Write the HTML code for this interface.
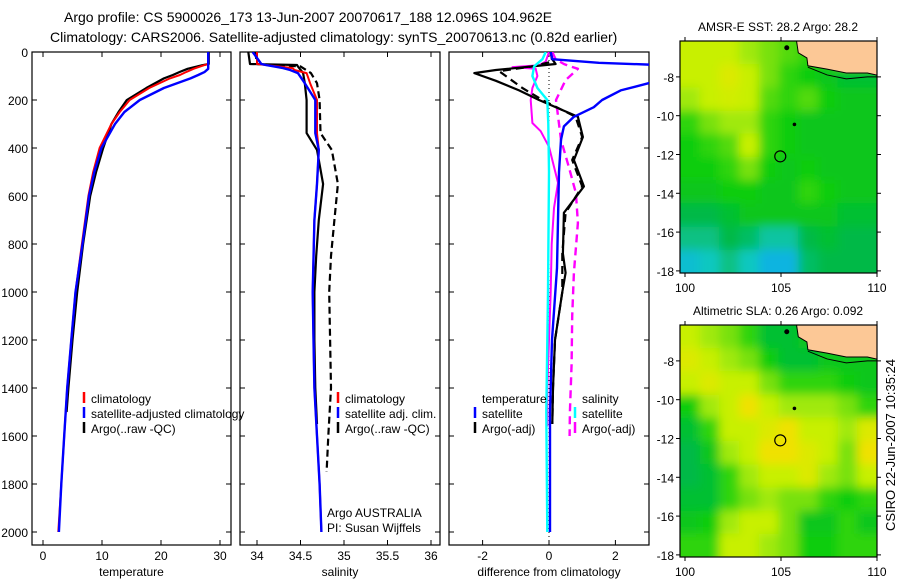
<!DOCTYPE html>
<html><head><meta charset="utf-8"><style>
html,body{margin:0;padding:0;background:#fff;}
svg{display:block;font-family:"Liberation Sans",sans-serif;}
</style></head><body>
<svg id="fig" xmlns="http://www.w3.org/2000/svg" width="900" height="580" viewBox="0 0 900 580">
<defs>
<clipPath id="c1"><rect x="32" y="52" width="199" height="493"/></clipPath>
<clipPath id="c2"><rect x="240" y="52" width="200" height="493"/></clipPath>
<clipPath id="c3"><rect x="449" y="52" width="200" height="493"/></clipPath>
<clipPath id="cm1"><rect x="680" y="41" width="197" height="232"/></clipPath>
<clipPath id="cm2"><rect x="680" y="325" width="197" height="232"/></clipPath>
<filter id="blur" x="-5%" y="-5%" width="110%" height="110%"><feGaussianBlur stdDeviation="5"/></filter>
</defs>
<g font-size="14" fill="#000">
<text x="64" y="22">Argo profile: CS 5900026_173 13-Jun-2007 20070617_188 12.096S 104.962E</text>
<text x="50" y="42">Climatology: CARS2006. Satellite-adjusted climatology: synTS_20070613.nc (0.82d earlier)</text>
</g>
<g id="layer"></g>
<text transform="translate(895,445) rotate(-90)" text-anchor="middle" font-size="13">CSIRO 22-Jun-2007 10:35:24</text>
</svg>
<script>
// ---- temperature panel data ----
const tDepth = [0,50,55,70,83,96,110,150,200,250,300,400,500,600,800,1000,1200,1400,1600,1800,2000];
const tClim  = [28.0,28.0,27.3,25.5,24.3,23.2,21.5,18.0,14.7,13.0,11.6,9.6,8.5,7.7,6.6,5.5,4.8,4.1,3.6,3.1,2.6];
const tSat   = [28.0,28.0,28.0,28.0,27.4,26.3,25.0,20.5,16.4,13.8,12.2,9.9,8.7,7.8,6.7,5.5,4.8,4.1,3.6,3.1,2.7];
const tArgoDepth = [0,50,55,70,83,96,110,150,200,250,300,400,500,600,800,1000,1200,1400,1500];
const tArgo  = [28.1,28.1,27.0,24.5,23.2,22.0,20.5,17.5,14.2,12.8,11.6,10.2,9.0,8.0,6.8,5.8,5.0,4.3,4.0];
// ---- salinity panel data ----
const sDepth = [0,25,50,54,67,75,88,130,200,338,408,550,700,1000,1200,1400,1600,1800,2000];
const sClim  = [34.0,34.0,34.0,34.1,34.41,34.43,34.57,34.61,34.69,34.69,34.71,34.69,34.66,34.64,34.65,34.66,34.69,34.72,34.74];
const sSat   = [33.95,34.0,34.05,34.1,34.3,34.38,34.47,34.55,34.67,34.67,34.71,34.69,34.66,34.64,34.65,34.66,34.69,34.72,34.74];
const sArgoDepth = [0,50,54,60,88,130,200,338,408,550,700,850,1000,1200,1400,1550];
const sArgo  = [33.9,33.92,34.46,34.47,34.53,34.55,34.57,34.57,34.69,34.76,34.71,34.68,34.66,34.66,34.67,34.69];
const sAdjDepth = [0,50,60,88,130,200,338,408,550,700,850,1000,1200,1400,1600,1750];
const sAdj   = [33.98,34.0,34.5,34.62,34.69,34.72,34.73,34.86,34.93,34.89,34.85,34.83,34.84,34.85,34.82,34.80];
// ---- difference panel data ----
const dTArgoDepth = [0,30,50,60,75,88,120,160,200,270,354,450,560,670,840,920,1000,1200,1400,1550];
const dTArgo = [0.05,0.1,0.2,-0.5,-1.6,-2.25,-1.6,-0.9,-0.3,0.87,1.02,0.75,1.05,0.45,0.42,0.5,0.4,0.18,0.12,0.1];
const dTAdjDepth = [0,40,60,80,100,150,200,270,354,450,560,670,840,1000,1200,1400,1550];
const dTAdj  = [0.05,0.1,-0.5,-1.5,-1.3,-0.8,-0.2,0.8,1.0,0.7,1.0,0.5,0.4,0.4,0.18,0.12,0.1];
const dTSatDepth = [0,30,45,55,70,90,110,130,160,200,230,270,310,366,500,700,900,1200,1500,2000];
const dTSat  = [0.05,0.1,1.5,3.5,4.5,4.2,3.6,3.0,2.16,1.6,1.35,0.75,0.45,0.36,0.3,0.27,0.24,0.09,0.03,0.03];
const dSSatDepth = [0,30,60,100,150,200,300,500,1000,1500,2000];
const dSSat  = [-0.1,-0.2,-0.45,-0.5,-0.35,-0.05,-0.02,0,-0.03,-0.08,-0.05];
const dSArgoDepth = [0,40,55,63,70,100,150,200,296,330,395,545,650,800,1000,1200,1400,1560];
const dSArgo = [0.0,-0.1,-0.3,-1.1,-0.4,-0.35,-0.5,-0.55,-0.5,-0.25,0,0.27,0.15,0.08,0.05,0.0,-0.05,-0.05];
const dSAdjDepth = [0,30,50,58,70,117,200,366,480,588,712,920,1100,1300,1500,1600];
const dSAdj  = [0.1,0.2,0.45,0.6,0.87,0.5,0.21,0.36,0.6,0.81,0.87,0.75,0.7,0.68,0.63,0.62];
// ---- tick labels ----
const depthTicks = [0,200,400,600,800,1000,1200,1400,1600,1800,2000];
const tempTicks = [0,10,20,30];
const salTicks = [34,34.5,35,35.5,36];
const diffTicks = [-2,0,2];
const lonTicks = [100,105,110];
const latTicks = [-8,-10,-12,-14,-16,-18];
// ---- map data (rows north->south, cols west->east; 0=cold/low .. 1=warm/high) ----
const sstGrid = [
 [0.8,0.8,0.8,0.75,0.7,0.65,0.6,0.6,0.9,1.0],
 [0.8,0.8,0.85,0.8,0.7,0.6,0.55,0.5,0.45,0.45],
 [0.75,0.8,0.82,0.8,0.65,0.6,0.65,0.55,0.5,0.5],
 [0.6,0.7,0.75,0.75,0.6,0.55,0.5,0.5,0.5,0.5],
 [0.55,0.6,0.65,0.8,0.6,0.55,0.5,0.5,0.5,0.5],
 [0.55,0.55,0.6,0.7,0.55,0.5,0.55,0.5,0.5,0.5],
 [0.5,0.5,0.55,0.55,0.5,0.5,0.6,0.55,0.5,0.5],
 [0.4,0.4,0.45,0.5,0.5,0.5,0.5,0.5,0.45,0.45],
 [0.3,0.3,0.4,0.35,0.25,0.25,0.4,0.45,0.4,0.4],
 [0.15,0.2,0.3,0.2,0.1,0.1,0.35,0.4,0.4,0.4]];
const slaGrid = [
 [0.8,0.75,0.7,0.6,0.45,0.45,0.5,0.5,0.5,0.5],
 [0.85,0.8,0.75,0.7,0.55,0.45,0.45,0.5,0.5,0.5],
 [0.8,0.85,0.8,0.8,0.7,0.6,0.6,0.6,0.55,0.5],
 [0.55,0.75,0.8,0.9,0.8,0.75,0.75,0.75,0.7,0.6],
 [0.45,0.6,0.8,0.8,0.85,0.9,0.8,0.8,0.75,0.85],
 [0.4,0.5,0.75,0.8,0.9,0.9,0.85,0.8,0.7,0.9],
 [0.4,0.45,0.6,0.75,0.8,0.8,0.85,0.75,0.7,0.8],
 [0.45,0.45,0.6,0.7,0.75,0.7,0.7,0.6,0.55,0.6],
 [0.5,0.55,0.75,0.8,0.8,0.7,0.5,0.5,0.6,0.5],
 [0.6,0.6,0.8,0.8,0.75,0.7,0.55,0.55,0.6,0.6]];
const coastLon = [105.8,105.9,106.35,106.4,107.4,108.4,109.5,110.2,110.2];
const coastLat = [-6.1,-6.76,-7.02,-7.43,-7.6,-7.8,-7.8,-7.95,-6.1];

const NS='http://www.w3.org/2000/svg';
const layer=document.getElementById('layer');
function mk(tag,attrs,parent){const e=document.createElementNS(NS,tag);for(const k in attrs)e.setAttribute(k,attrs[k]);(parent||layer).appendChild(e);return e;}
const yD = d => 52 + d*0.24;
const xT = v => 43 + v*5.9;
const xS = v => 257 + (v-34)*87;
const xDf = v => 549 + v*33.2;

function line(xs, ds, fx, color, w, dash, clip, name){
  let p='';
  for(let i=0;i<xs.length;i++){p += (i?'L':'M') + fx(xs[i]).toFixed(1)+','+yD(ds[i]).toFixed(1);}
  const e=mk('path',{d:p,fill:'none',stroke:color,'stroke-width':w,'clip-path':'url(#'+clip+')','stroke-linejoin':'round'});
  if(dash) e.setAttribute('stroke-dasharray',dash);
  
  
}
function frame(x0,x1,xticks,fx,labelFmt,showDepth,xlabel,name){
  const g=mk('g',{});
  
  
  mk('rect',{x:x0,y:52,width:x1-x0,height:493,fill:'none',stroke:'#000','stroke-width':1.2},g);
  depthTicks.forEach(d=>{
    const y=yD(d);
    mk('line',{x1:x0,x2:x0+5,y1:y,y2:y,stroke:'#000'},g);
    mk('line',{x1:x1-5,x2:x1,y1:y,y2:y,stroke:'#000'},g);
    if(showDepth){const t=mk('text',{x:x0-4,y:y+5,'text-anchor':'end','font-size':12},g);t.textContent=d;
      
      }
  });
  xticks.forEach(v=>{
    const x=fx(v);
    mk('line',{x1:x,x2:x,y1:52,y2:57,stroke:'#000'},g);
    mk('line',{x1:x,x2:x,y1:540,y2:545,stroke:'#000'},g);
    const t=mk('text',{x:x,y:560,'text-anchor':'middle','font-size':12},g);t.textContent=labelFmt(v);
    
    
  });
  const xl=mk('text',{x:(x0+x1)/2,y:576,'text-anchor':'middle','font-size':12},g);xl.textContent=xlabel;
  
  
}
frame(32,231,tempTicks,xT,v=>v,true,'temperature','temperature-panel');
frame(240,440,salTicks,xS,v=>v,false,'salinity','salinity-panel');
frame(449,649,diffTicks,xDf,v=>v,false,'difference from climatology','difference-panel');

// temperature lines
line(tArgo,tArgoDepth,xT,'#000',2.2,null,'c1','temp-argo-line');
line(tClim,tDepth,xT,'#f00',2,null,'c1','temp-climatology-line');
line(tSat,tDepth,xT,'#00f',2.4,null,'c1','temp-satellite-line');
// salinity lines
line(sAdj,sAdjDepth,xS,'#000',2.2,'7,4','c2','sal-argo-adj-line');
line(sArgo,sArgoDepth,xS,'#000',2.2,null,'c2','sal-argo-raw-line');
line(sClim,sDepth,xS,'#f00',2,null,'c2','sal-climatology-line');
line(sSat,sDepth,xS,'#00f',2.4,null,'c2','sal-satellite-line');
// difference lines
const zl=mk('line',{x1:xDf(0),x2:xDf(0),y1:52,y2:545,stroke:'#000','stroke-width':1,'stroke-dasharray':'1,3'});


line(dSAdj,dSAdjDepth,xDf,'#f0f',2.4,'8,5','c3','diff-sal-argo-adj-line');
line(dSArgo,dSArgoDepth,xDf,'#f0f',2,null,'c3','diff-sal-argo-line');
line(dTAdj,dTAdjDepth,xDf,'#000',2.2,'8,5','c3','diff-temp-argo-adj-line');
line(dTArgo,dTArgoDepth,xDf,'#000',2.2,null,'c3','diff-temp-argo-line');
line(dTSat,dTSatDepth,xDf,'#00f',2.4,null,'c3','diff-temp-satellite-line');
line(dSSat,dSSatDepth,xDf,'#0ff',2.4,null,'c3','diff-sal-satellite-line');

// legends
function legend(x,y,color,label,name,dash){
  const g=mk('g',{});
  
  
  if(color){const l=mk('line',{x1:x,x2:x,y1:y-11,y2:y,stroke:color,'stroke-width':2.5},g); if(dash)l.setAttribute('stroke-dasharray',dash);}
  const t=mk('text',{x:x+7,y:y,'font-size':12},g);t.textContent=label;
}
legend(84,403,'#f00','climatology','legend-climatology');
legend(84,418,'#00f','satellite-adjusted climatology','legend-satellite-adjusted');
legend(84,433,'#000','Argo(..raw -QC)','legend-argo');
legend(338,403,'#f00','climatology','legend-sal-climatology');
legend(338,418,'#00f','satellite adj. clim.','legend-sal-satellite');
legend(338,433,'#000','Argo(..raw -QC)','legend-sal-argo');
legend(475,403,null,'temperature','legend-temperature-heading');
legend(475,418,'#00f','satellite','legend-temp-satellite');
legend(475,433,'#000','Argo(-adj)','legend-temp-argo');
legend(575,403,null,'salinity','legend-salinity-heading');
legend(575,418,'#0ff','satellite','legend-sal-sat-diff');
legend(575,433,'#f0f','Argo(-adj)','legend-sal-argo-diff');
const pi1=mk('text',{x:327,y:517,'font-size':12});pi1.textContent='Argo AUSTRALIA';


const pi2=mk('text',{x:327,y:532,'font-size':12});pi2.textContent='PI: Susan Wijffels';



// maps
const stops=[[0,[10,160,255]],[0.2,[16,200,192]],[0.4,[0,185,70]],[0.55,[10,205,10]],[0.7,[120,225,16]],[0.8,[200,240,0]],[0.9,[240,225,0]],[1,[255,195,0]]];
function cmap(v){
  for(let i=1;i<stops.length;i++){if(v<=stops[i][0]){const a=stops[i-1],b=stops[i],t=(v-a[0])/(b[0]-a[0]);
    const c=a[1].map((q,k)=>Math.round(q+(b[1][k]-q)*t));return 'rgb('+c.join(',')+')';}}
  return 'rgb(255,195,0)';
}
function map(grid,top,clip,title,name){
  const lonX=l=>685+(l-100)*19.2;
  const latY=la=>top+ ( -6.15 - la)*19.4;
  const g=mk('g',{});
  
  
  const cells=mk('g',{'clip-path':'url(#'+clip+')'},g);
  const inner=mk('g',{filter:'url(#blur)'},cells);
  const rows=grid.length, cols=grid[0].length, w=197/cols, h=232/rows;
  mk('rect',{x:660,y:top-20,width:240,height:272,fill:cmap(0.5)},inner);
  for(let r=0;r<rows;r++)for(let c=0;c<cols;c++){
    const e=mk('rect',{x:(680+c*w-(c==0?20:0)).toFixed(1),y:(top+r*h-(r==0?20:0)).toFixed(1),width:(w+(c==0||c==cols-1?20:0)+0.5).toFixed(1),height:(h+(r==0||r==rows-1?20:0)+0.5).toFixed(1),fill:cmap(grid[r][c])},inner);
    
    
  }
  let p='';coastLon.forEach((l,i)=>{p+=(i?'L':'M')+lonX(l).toFixed(1)+','+latY(coastLat[i]).toFixed(1);});
  const land=mk('path',{d:p+'Z',fill:'#fcc896',stroke:'#000','stroke-width':1},cells);
  
  
  mk('path',{d:'M'+lonX(106.4)+','+latY(-7.5)+'L'+lonX(107.4)+','+latY(-7.9)+'L'+lonX(108.4)+','+latY(-8.1)+'L'+lonX(109.5)+','+latY(-8.0)+'L'+lonX(110.2)+','+latY(-8.0),fill:'none',stroke:'#000','stroke-width':1},cells);
  mk('circle',{cx:lonX(105.3),cy:latY(-6.5),r:2.5,fill:'#000'},cells);
  mk('circle',{cx:lonX(105.7),cy:latY(-10.45),r:1.8,fill:'#000'},cells);
  const pos=mk('circle',{cx:lonX(104.962),cy:latY(-12.096),r:5.5,fill:'none',stroke:'#000','stroke-width':1.2},cells);
  
  
  mk('rect',{x:680,y:top,width:197,height:232,fill:'none',stroke:'#000','stroke-width':1.2},g);
  latTicks.forEach(la=>{const y=latY(la);
    mk('line',{x1:680,x2:676,y1:y,y2:y,stroke:'#000'},g);
    mk('line',{x1:877,x2:881,y1:y,y2:y,stroke:'#000'},g);
    const t=mk('text',{x:674,y:y+5,'text-anchor':'end','font-size':12},g);t.textContent=la;
    
    });
  lonTicks.forEach(l=>{const x=lonX(l);
    mk('line',{x1:x,x2:x,y1:top,y2:top-4,stroke:'#000'},g);
    mk('line',{x1:x,x2:x,y1:top+232,y2:top+236,stroke:'#000'},g);
    const t=mk('text',{x:x,y:top+251,'text-anchor':'middle','font-size':12},g);t.textContent=l;
    
    });
  const tt=mk('text',{x:778,y:top-10,'text-anchor':'middle','font-size':12},g);tt.textContent=title;
  
  
}
map(sstGrid,41,'cm1','AMSR-E SST: 28.2 Argo: 28.2','sst-map');
map(slaGrid,325,'cm2','Altimetric SLA: 0.26 Argo: 0.092','sla-map');
</script>
</body></html>
